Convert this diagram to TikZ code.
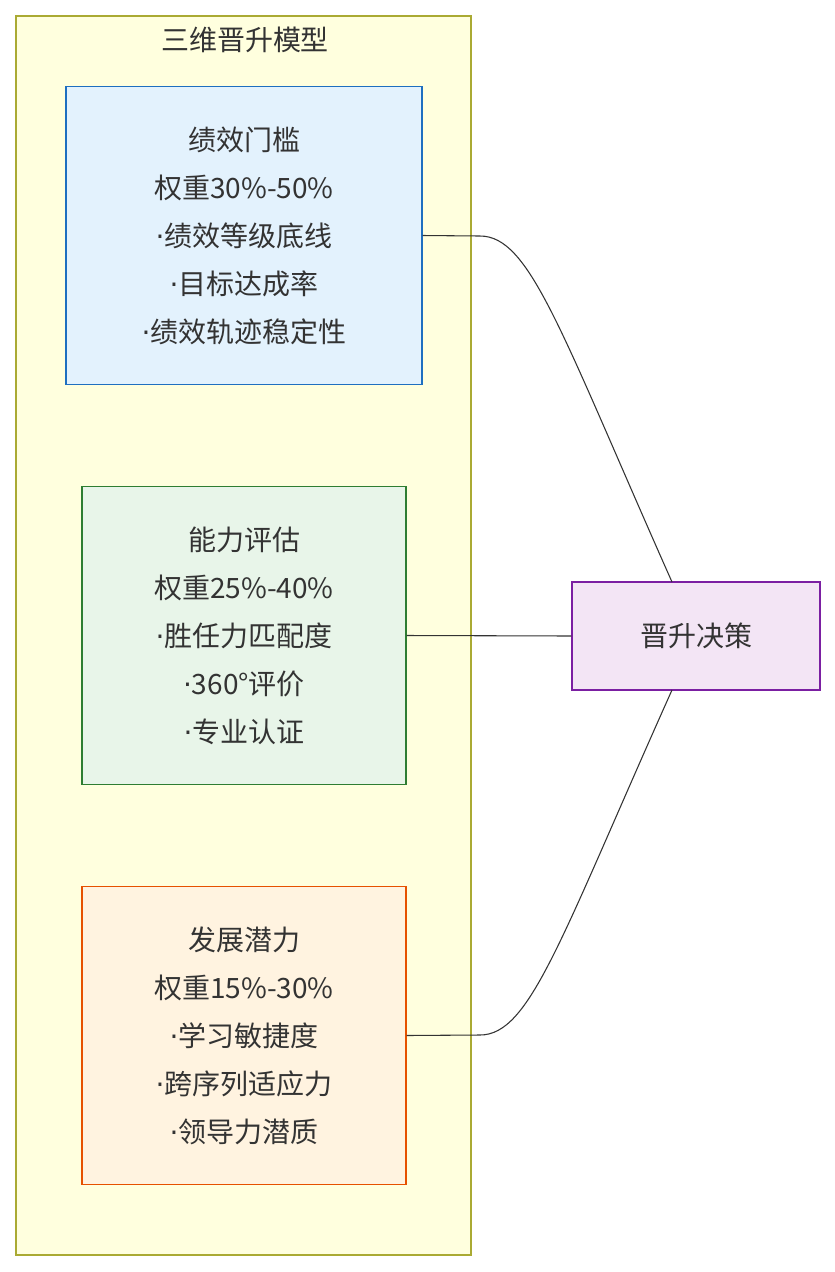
\documentclass[tikz,border=0pt]{standalone}
\usepackage{fontspec}
\setmainfont{Noto Sans CJK SC}
\newfontfamily\dotfont{DejaVu Sans}
\definecolor{grpfill}{HTML}{FFFFDE}
\definecolor{grpline}{HTML}{AAAA33}
\definecolor{perffill}{HTML}{E3F2FD}
\definecolor{perfline}{HTML}{1E6FC0}
\definecolor{abilfill}{HTML}{E8F5E9}
\definecolor{abilline}{HTML}{2E7D32}
\definecolor{potfill}{HTML}{FFF3E0}
\definecolor{potline}{HTML}{E65100}
\definecolor{decfill}{HTML}{F3E5F5}
\definecolor{decline}{HTML}{7B1FA2}
\newcommand{\pt}{{\dotfont·}}
\begin{document}
\begin{tikzpicture}[x=0.75pt,y=-0.75pt,
	box/.style={draw, thick, align=center, font=\fontsize{21}{36}\selectfont, text=black!80},
	link/.style={draw=black!80, thick}]
	\useasboundingbox (0,0) rectangle (835,1272);
	\draw[fill=grpfill, draw=grpline, thick] (16,16) rectangle (471,1255);
	\node[font=\fontsize{21}{24}\selectfont, text=black!80] (title) at (245,40) {三维晋升模型};

	\node[box, fill=perffill, draw=perfline, minimum width=267pt, minimum height=224pt] (perf) at (244,235.5)
		{绩效门槛\\权重30\%-50\%\\\pt 绩效等级底线\\\pt 目标达成率\\\pt 绩效轨迹稳定性};
	\node[box, fill=abilfill, draw=abilline, minimum width=243pt, minimum height=224pt] (abil) at (244,635.5)
		{能力评估\\权重25\%-40\%\\\pt 胜任力匹配度\\\pt 360°评价\\\pt 专业认证};
	\node[box, fill=potfill, draw=potline, minimum width=243pt, minimum height=224pt] (pot) at (244,1035.5)
		{发展潜力\\权重15\%-30\%\\\pt 学习敏捷度\\\pt 跨序列适应力\\\pt 领导力潜质};
	\node[box, fill=decfill, draw=decline, minimum width=186pt, minimum height=81pt] (dec) at (696,636)
		{晋升决策};

	\coordinate (dt) at (672,582);
	\coordinate (db) at (672,690);
	\draw[link] (perf.east) -- (480,236) .. controls (530,236) and (560,330) .. (dt);
	\draw[link] (abil.east) -- (dec.west);
	\draw[link] (pot.east) -- (480,1035) .. controls (530,1035) and (560,940) .. (db);
\end{tikzpicture}
\end{document}
